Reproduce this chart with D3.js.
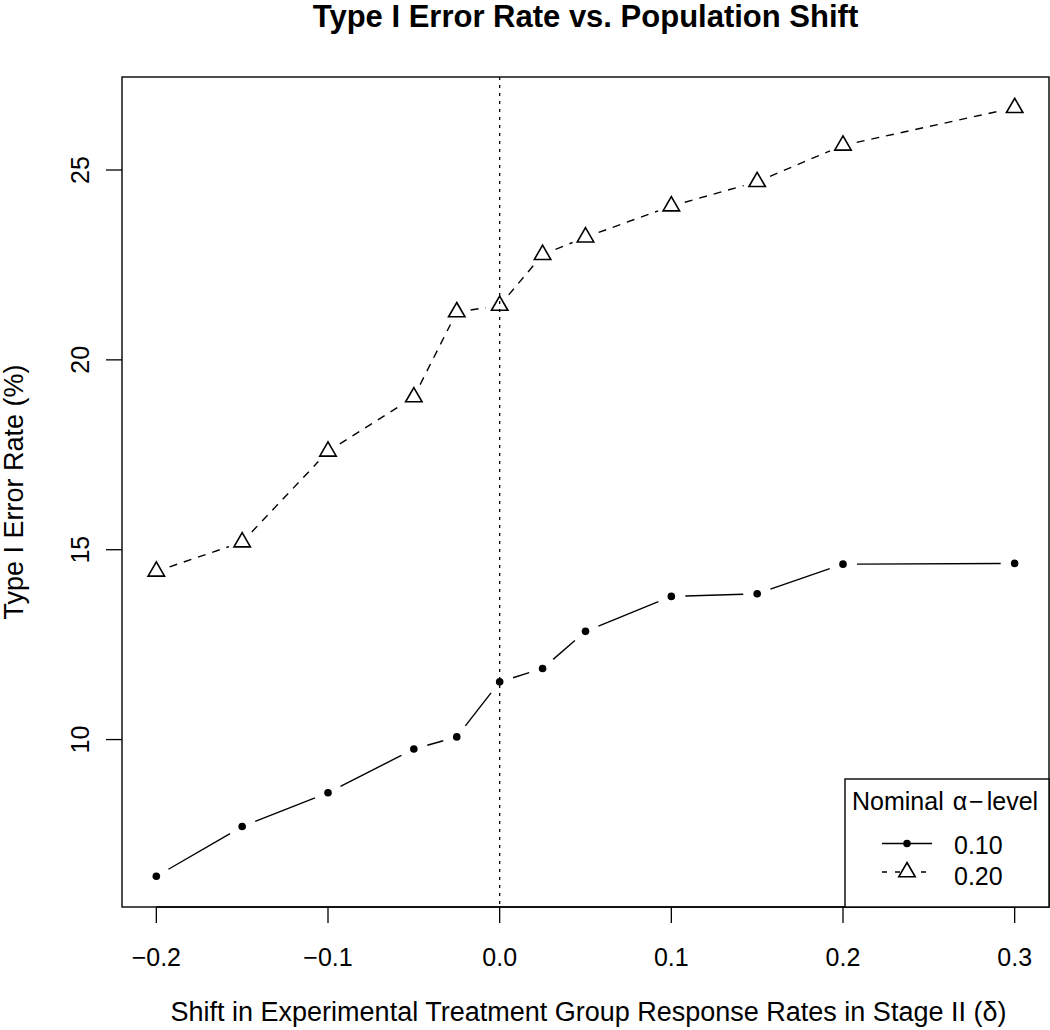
<!DOCTYPE html>
<html>
<head>
<meta charset="utf-8">
<script src="https://cdn.jsdelivr.net/npm/d3@7"></script>
<style>
  html, body { margin: 0; padding: 0; background: #fff; }
  svg text { font-family: "Liberation Sans", Arial, Helvetica, sans-serif; fill: #000; }
</style>
</head>
<body>
<script>
// ---- Data ----
const deltas  = [-0.2, -0.15, -0.1, -0.05, -0.025, 0, 0.025, 0.05, 0.1, 0.15, 0.2, 0.3];
const alpha10 = [6.40, 7.71, 8.60, 9.75, 10.07, 11.52, 11.87, 12.85, 13.77, 13.84, 14.62, 14.64];
const alpha20 = [14.43, 15.20, 17.59, 19.02, 21.26, 21.43, 22.77, 23.23, 24.05, 24.69, 25.65, 26.64];
const xTicks = [-0.2, -0.1, 0.0, 0.1, 0.2, 0.3];
const yTicks = [10, 15, 20, 25];
const legendLabels = ["0.10", "0.20"];
const refLine = [0];

const W = 1050, H = 1030;
const plot = { left: 122, right: 1049, top: 77, bottom: 907 };

const svg = d3.select("body").append("svg")
  .attr("width", W).attr("height", H)
  .attr("viewBox", `0 0 ${W} ${H}`);

// R-style 4% axis extension
function rExt(vals) {
  const [a, b] = d3.extent(vals);
  const e = (b - a) * 0.04;
  return [a - e, b + e];
}
const x = d3.scaleLinear().domain(rExt(deltas)).range([plot.left, plot.right]);
const y = d3.scaleLinear().domain(rExt(alpha10.concat(alpha20))).range([plot.bottom, plot.top]);

const fmt = d3.format(".1f");
const FS = 25;    // tick labels and legend
const FL = 27;    // axis titles

// Title
svg.append("text")
  .attr("x", (plot.left + plot.right) / 2).attr("y", 27)
  .attr("text-anchor", "middle")
  .style("font-size", "31px").style("font-weight", "bold")
  .text("Type I Error Rate vs. Population Shift");

// Vertical reference line at 0
svg.selectAll("line.ref").data(refLine).enter().append("line")
  .attr("class", "ref")
  .attr("x1", d => x(d)).attr("x2", d => x(d))
  .attr("y1", plot.top).attr("y2", plot.bottom)
  .attr("stroke", "#000").attr("stroke-width", 1.3)
  .attr("stroke-dasharray", "3,5");

// Series lines with gaps (R type="b")
const GAP = 14;
function gapSegments(xs, ys) {
  const segs = [];
  for (let i = 0; i < xs.length - 1; i++) {
    const x1 = x(xs[i]), y1 = y(ys[i]), x2 = x(xs[i + 1]), y2 = y(ys[i + 1]);
    const d = Math.hypot(x2 - x1, y2 - y1);
    if (d > 2 * GAP) {
      const ux = (x2 - x1) / d, uy = (y2 - y1) / d;
      segs.push([x1 + ux * GAP, y1 + uy * GAP, x2 - ux * GAP, y2 - uy * GAP]);
    }
  }
  return segs;
}

svg.selectAll("line.s10").data(gapSegments(deltas, alpha10)).enter().append("line")
  .attr("class", "s10")
  .attr("x1", d => d[0]).attr("y1", d => d[1]).attr("x2", d => d[2]).attr("y2", d => d[3])
  .attr("stroke", "#000").attr("stroke-width", 1.4);

svg.selectAll("line.s20").data(gapSegments(deltas, alpha20)).enter().append("line")
  .attr("class", "s20")
  .attr("x1", d => d[0]).attr("y1", d => d[1]).attr("x2", d => d[2]).attr("y2", d => d[3])
  .attr("stroke", "#000").attr("stroke-width", 1.4)
  .attr("stroke-dasharray", "8,7");

// Markers
const TR = 9.5;
const triPath = `M0,${-TR} L${TR * 0.866},${TR / 2} L${-TR * 0.866},${TR / 2} Z`;

svg.selectAll("circle.p10").data(deltas.map((d, i) => [d, alpha10[i]])).enter().append("circle")
  .attr("class", "p10")
  .attr("cx", d => x(d[0])).attr("cy", d => y(d[1])).attr("r", 3.8)
  .attr("fill", "#000");

svg.selectAll("path.p20").data(deltas.map((d, i) => [d, alpha20[i]])).enter().append("path")
  .attr("class", "p20")
  .attr("transform", d => `translate(${x(d[0])},${y(d[1])})`)
  .attr("d", triPath)
  .attr("fill", "none").attr("stroke", "#000").attr("stroke-width", 1.6);

// X axis ticks
const xa = svg.append("g");
xa.selectAll("line").data(xTicks).enter().append("line")
  .attr("x1", d => x(d)).attr("x2", d => x(d))
  .attr("y1", plot.bottom).attr("y2", plot.bottom + 16)
  .attr("stroke", "#000").attr("stroke-width", 1.3);
xa.append("line")
  .attr("x1", x(xTicks[0])).attr("x2", x(xTicks[xTicks.length - 1]))
  .attr("y1", plot.bottom).attr("y2", plot.bottom)
  .attr("stroke", "#000").attr("stroke-width", 1.3);
xa.selectAll("text").data(xTicks).enter().append("text")
  .attr("x", d => x(d)).attr("y", 966)
  .attr("text-anchor", "middle")
  .style("font-size", FS + "px")
  .text(d => fmt(d));

// Y axis ticks
const ya = svg.append("g");
ya.selectAll("line").data(yTicks).enter().append("line")
  .attr("y1", d => y(d)).attr("y2", d => y(d))
  .attr("x1", plot.left).attr("x2", plot.left - 16)
  .attr("stroke", "#000").attr("stroke-width", 1.3);
ya.selectAll("text").data(yTicks).enter().append("text")
  .attr("transform", d => `translate(89,${y(d)}) rotate(-90)`)
  .attr("text-anchor", "middle")
  .style("font-size", FS + "px")
  .text(d => d);

// Plot box
svg.append("rect")
  .attr("x", plot.left).attr("y", plot.top)
  .attr("width", plot.right - plot.left).attr("height", plot.bottom - plot.top)
  .attr("fill", "none").attr("stroke", "#000").attr("stroke-width", 1.4);

// Axis titles
svg.append("text")
  .attr("x", (plot.left + plot.right) / 2 + 3).attr("y", 1021)
  .attr("text-anchor", "middle")
  .style("font-size", FL + "px")
  .text("Shift in Experimental Treatment Group Response Rates in Stage II (\u03B4)");

svg.append("text")
  .attr("transform", `translate(23,${(plot.top + plot.bottom) / 2}) rotate(-90)`)
  .attr("text-anchor", "middle")
  .style("font-size", FL + "px")
  .text("Type I Error Rate (%)");

// Legend
const lg = { x0: 845, y0: 779, x1: plot.right, y1: plot.bottom };
svg.append("rect")
  .attr("x", lg.x0).attr("y", lg.y0)
  .attr("width", lg.x1 - lg.x0).attr("height", lg.y1 - lg.y0)
  .attr("fill", "#fff").attr("stroke", "#000").attr("stroke-width", 1.4);

const lt = svg.append("text")
  .attr("x", 852).attr("y", 810)
  .style("font-size", FS + "px");
lt.append("tspan").text("Nominal ");
lt.append("tspan").attr("dx", 2).text("\u03B1");
lt.append("tspan").attr("dx", 2).text("\u2212");
lt.append("tspan").attr("dx", 3).text("level");

const rowsY = [843.5, 872];
const lgSegX = [882, 932], lgPtX = 907;
const rows = svg.selectAll("g.lrow").data(legendLabels).enter().append("g").attr("class", "lrow");
rows.append("line")
  .attr("x1", lgSegX[0]).attr("x2", lgSegX[1])
  .attr("y1", (d, i) => rowsY[i]).attr("y2", (d, i) => rowsY[i])
  .attr("stroke", "#000").attr("stroke-width", 1.4)
  .attr("stroke-dasharray", (d, i) => i === 0 ? null : "5,8");
rows.filter((d, i) => i === 0).append("circle")
  .attr("cx", lgPtX).attr("cy", rowsY[0]).attr("r", 3.8).attr("fill", "#000");
rows.filter((d, i) => i === 1).append("path")
  .attr("transform", `translate(${lgPtX},${rowsY[1]})`)
  .attr("d", triPath)
  .attr("fill", "#fff").attr("stroke", "#000").attr("stroke-width", 1.6);
rows.append("text")
  .attr("x", 954).attr("y", (d, i) => [853.5, 885][i])
  .style("font-size", FS + "px")
  .text(d => d);
</script>
</body>
</html>
